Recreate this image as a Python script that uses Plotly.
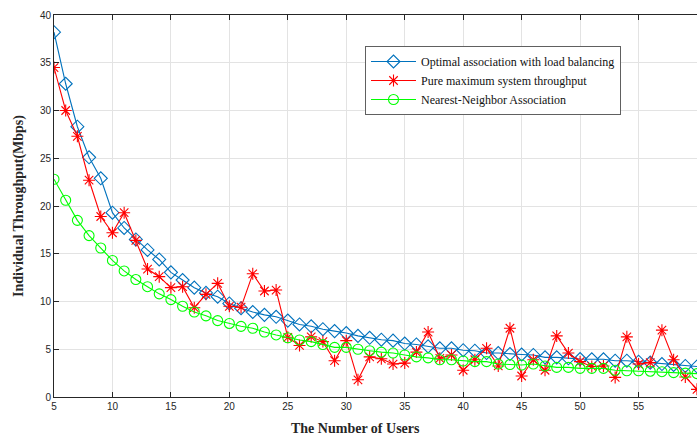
import plotly.graph_objects as go

users = list(range(5, 61))

optimal = [38.2, 32.8, 28.3, 25.1, 22.9, 19.3, 17.7, 16.5, 15.4, 14.4,
           13.05, 12.25, 11.45, 10.9, 10.5, 9.8, 9.3, 8.9, 8.6, 8.4,
           8.0, 7.6, 7.4, 7.1, 6.9, 6.7, 6.4, 6.2, 6.0, 5.9,
           5.6, 5.5, 5.3, 5.1, 5.1, 4.9, 4.85, 4.6, 4.6, 4.5,
           4.45, 4.4, 4.15, 4.15, 4.05, 3.98, 3.95, 3.95, 3.8, 3.8,
           3.7, 3.6, 3.45, 3.35, 3.25, 3.2]

pure_max = [34.5, 30.0, 27.3, 22.7, 18.9, 17.2, 19.3, 16.4, 13.4, 12.6,
            11.45, 11.55, 9.35, 10.75, 11.9, 9.5, 9.4, 12.9, 11.1, 11.2,
            6.25, 5.4, 6.3, 5.8, 3.8, 5.9, 1.8, 4.2, 4.0, 3.45,
            3.55, 4.7, 6.8, 4.05, 4.4, 2.8, 3.9, 5.1, 3.25, 7.2,
            2.2, 3.9, 2.8, 6.4, 4.6, 3.7, 3.2, 3.25, 2.05, 6.3,
            3.45, 3.6, 7.0, 3.9, 2.1, 0.8]

nearest = [22.8, 20.6, 18.5, 16.9, 15.6, 14.3, 13.2, 12.3, 11.55, 10.8,
           10.2, 9.5, 8.9, 8.5, 8.0, 7.7, 7.4, 7.2, 6.8, 6.5,
           6.2, 5.97, 5.8, 5.5, 5.2, 5.2, 5.0, 4.85, 4.7, 4.6,
           4.4, 4.2, 4.1, 3.9, 3.9, 3.77, 3.7, 3.7, 3.45, 3.4,
           3.35, 3.45, 3.25, 3.1, 3.1, 3.0, 3.0, 3.0, 2.8, 2.75,
           2.75, 2.7, 2.65, 2.55, 2.5, 2.45]

x_ticks = list(range(5, 61, 5))
y_ticks = list(range(0, 41, 5))

BLUE = "#0072BD"
RED = "#FF0000"
GREEN = "#00FF00"

fig = go.Figure()
fig.add_trace(go.Scatter(
    x=users, y=optimal, mode="lines+markers",
    name="Optimal association with load balancing",
    line=dict(color=BLUE, width=1.1),
    marker=dict(symbol="diamond-open", size=10, color=BLUE, line=dict(color=BLUE, width=1.1)),
))
fig.add_trace(go.Scatter(
    x=users, y=pure_max, mode="lines+markers",
    name="Pure maximum system throughput",
    line=dict(color=RED, width=1.1),
    marker=dict(symbol="asterisk-open", size=10, color=RED, line=dict(color=RED, width=1.1)),
))
fig.add_trace(go.Scatter(
    x=users, y=nearest, mode="lines+markers",
    name="Nearest-Neighbor Association",
    line=dict(color=GREEN, width=1.1),
    marker=dict(symbol="circle-open", size=10, color=GREEN, line=dict(color=GREEN, width=1.1)),
))

axis_font = dict(family="Liberation Sans, Arial", size=10, color="#262626")

fig.update_layout(
    width=697, height=437,
    margin=dict(l=54, r=0, t=15, b=40),
    paper_bgcolor="white", plot_bgcolor="white",
    showlegend=True,
    legend=dict(
        x=(365 - 54) / 643, y=(397 - 46) / 382, xanchor="left", yanchor="top",
        bgcolor="white", bordercolor="#606060", borderwidth=1,
        font=dict(family="Liberation Serif, Times New Roman", size=12, color="#111111"),
        tracegroupgap=0, itemwidth=45,
    ),
    xaxis=dict(
        range=[5, 60], tickvals=x_ticks, ticktext=[str(v) for v in x_ticks],
        showgrid=True, gridcolor="#e3e3e3", gridwidth=1,
        showline=True, linecolor="#262626", linewidth=1, mirror="ticks",
        ticks="inside", ticklen=5, tickcolor="#262626",
        tickfont=axis_font, zeroline=False,
    ),
    yaxis=dict(
        range=[0, 40], tickvals=y_ticks, ticktext=[str(v) for v in y_ticks],
        showgrid=True, gridcolor="#e3e3e3", gridwidth=1,
        showline=True, linecolor="#262626", linewidth=1, mirror=False,
        ticks="inside", ticklen=5, tickcolor="#262626",
        tickfont=axis_font, zeroline=False,
        title=dict(text="<b>Individual Throughput(Mbps)</b>",
                   font=dict(family="Liberation Serif, Times New Roman", size=14, color="#262626"),
                   standoff=12),
    ),
    annotations=[dict(
        text="<b>The Number of Users</b>", xref="paper", yref="paper",
        x=(355 - 54) / 643, y=-(428 - 397) / 382, xanchor="center", yanchor="middle",
        showarrow=False,
        font=dict(family="Liberation Serif, Times New Roman", size=14, color="#262626"),
    )],
)

fig.write_html("out.html")
